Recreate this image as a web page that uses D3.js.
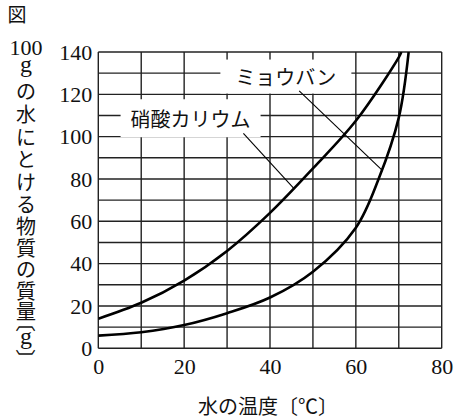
<!DOCTYPE html>
<html>
<head>
<meta charset="utf-8">
<script src="https://cdn.jsdelivr.net/npm/d3@7"></script>
<style>
  body { margin: 0; background: #fff; }
  svg { display: block; }
</style>
</head>
<body>
<script>
// solubility curves (g per 100 g water)
const kno3Temp = [0, 10, 20, 30, 40, 50, 60, 70, 70.6];
const kno3Val  = [14, 21.5, 32, 46, 64, 85, 107.5, 137.5, 140];
const alumTemp = [0, 10, 20, 30, 40, 50, 60, 65.3, 70, 72.3];
const alumVal  = [6, 7.6, 11, 16.6, 24, 36.2, 57, 80, 109, 140];

const xTickLabels = [0, 20, 40, 60, 80];
const yTickLabels = [0, 20, 40, 60, 80, 100, 120, 140];

const width = 462, height = 418;
const numFont = "Liberation Serif";
const jpFont = "Noto Sans CJK JP";

const svg = d3.select("body").append("svg")
  .attr("width", width)
  .attr("height", height);

const x = d3.scaleLinear().domain([0, 80]).range([98.3, 441.7]);
const y = d3.scaleLinear().domain([0, 140]).range([348.3, 52]);

// grid
const grid = svg.append("g").attr("stroke", "#222").attr("stroke-width", 1.4);
grid.selectAll("line.v")
  .data(d3.range(0, 81, 10))
  .enter().append("line")
  .attr("x1", d => x(d)).attr("x2", d => x(d))
  .attr("y1", y(0)).attr("y2", y(140));
grid.selectAll("line.h")
  .data(d3.range(0, 141, 10))
  .enter().append("line")
  .attr("x1", x(0)).attr("x2", x(80))
  .attr("y1", d => y(d)).attr("y2", d => y(d));

// axes labels
const xaxis = d3.axisBottom(x).tickValues(xTickLabels).tickSize(0).tickPadding(10);
const yaxis = d3.axisLeft(y).tickValues(yTickLabels).tickSize(0).tickPadding(6);

svg.append("g")
  .attr("transform", `translate(0, ${y(0)})`)
  .call(xaxis)
  .call(g => g.select(".domain").remove())
  .attr("font-family", numFont)
  .attr("font-size", 22)
  .selectAll("text")
  .style("font-family", numFont)
  .attr("fill", "#111");

svg.append("g")
  .attr("transform", `translate(${x(0)}, 0)`)
  .call(yaxis)
  .call(g => g.select(".domain").remove())
  .attr("font-family", numFont)
  .attr("font-size", 22)
  .selectAll("text")
  .style("font-family", numFont)
  .attr("fill", "#111");

// curves
const line = d3.line()
  .x(d => x(d[0]))
  .y(d => y(d[1]))
  .curve(d3.curveCatmullRom.alpha(0.5));

svg.append("clipPath").attr("id", "plot")
  .append("rect")
  .attr("x", x(0)).attr("y", y(140))
  .attr("width", x(80) - x(0)).attr("height", y(0) - y(140));

const curves = svg.append("g").attr("clip-path", "url(#plot)");
const kno3Path = curves.append("path")
  .datum(d3.zip(kno3Temp, kno3Val))
  .attr("fill", "none")
  .attr("stroke", "#000")
  .attr("stroke-width", 2.6)
  .attr("d", line);
const alumPath = curves.append("path")
  .datum(d3.zip(alumTemp, alumVal))
  .attr("fill", "none")
  .attr("stroke", "#000")
  .attr("stroke-width", 2.6)
  .attr("d", line);

// point on a drawn curve at a given temperature
function onCurve(path, t) {
  const node = path.node(), px = x(t);
  let lo = 0, hi = node.getTotalLength();
  for (let i = 0; i < 40; i++) {
    const mid = (lo + hi) / 2;
    if (node.getPointAtLength(mid).x < px) lo = mid; else hi = mid;
  }
  return node.getPointAtLength(lo);
}

// curve labels with white boxes and leader lines
function label(text, tx, ty, from, path, toT, padX, padY) {
  const g = svg.append("g");
  const box = g.append("rect").attr("fill", "#fff");
  const t = g.append("text")
    .attr("x", x(tx)).attr("y", y(ty))
    .attr("text-anchor", "middle")
    .attr("dominant-baseline", "central")
    .style("font-family", jpFont)
    .style("font-size", "20px")
    .attr("fill", "#111")
    .text(text);
  const b = t.node().getBBox();
  box.attr("x", b.x - padX).attr("y", y(ty) - padY)
    .attr("width", b.width + 2 * padX).attr("height", 2 * padY);
  const p = onCurve(path, toT);
  svg.append("line")
    .attr("x1", x(from[0])).attr("y1", y(from[1]))
    .attr("x2", p.x).attr("y2", p.y)
    .attr("stroke", "#000")
    .attr("stroke-width", 1.1);
}
label("硝酸カリウム", 21.5, 108.7, [33.8, 101.6], kno3Path, 45.6, 10, 19);
label("ミョウバン", 43.7, 128.4, [46.8, 121.6], alumPath, 66.1, 15, 17);

// x title
svg.append("text")
  .attr("x", 268).attr("y", 405)
  .attr("text-anchor", "middle")
  .attr("dominant-baseline", "central")
  .style("font-family", jpFont)
  .style("font-size", "20px")
  .attr("fill", "#111")
  .text("水の温度〔℃〕");

// figure mark
svg.append("text")
  .attr("x", 17).attr("y", 13)
  .attr("text-anchor", "middle")
  .attr("dominant-baseline", "central")
  .style("font-family", jpFont)
  .style("font-size", "19px")
  .attr("fill", "#111")
  .text("図");

// y title, written vertically one glyph at a time
const yTitle = [
  {c: "100", n: true, s: 22, y: 47},
  {c: "g", n: true, s: 24, y: 64},
  {c: "の", y: 90}, {c: "水", y: 113}, {c: "に", y: 136}, {c: "と", y: 158},
  {c: "け", y: 181}, {c: "る", y: 203}, {c: "物", y: 225}, {c: "質", y: 247},
  {c: "の", y: 268}, {c: "質", y: 290}, {c: "量", y: 310},
  {c: "〔", r: 90, y: 322}, {c: "g", n: true, s: 24, y: 336}, {c: "〕", r: 90, y: 359}
];
svg.append("g").selectAll("text")
  .data(yTitle)
  .enter().append("text")
  .attr("x", 26)
  .attr("y", d => d.y)
  .attr("transform", d => d.r ? `rotate(${d.r}, 26, ${d.y})` : null)
  .attr("text-anchor", "middle")
  .attr("dominant-baseline", "central")
  .style("font-family", d => d.n ? numFont : jpFont)
  .style("font-size", d => (d.s || 20) + "px")
  .attr("fill", "#111")
  .text(d => d.c);
</script>
</body>
</html>
